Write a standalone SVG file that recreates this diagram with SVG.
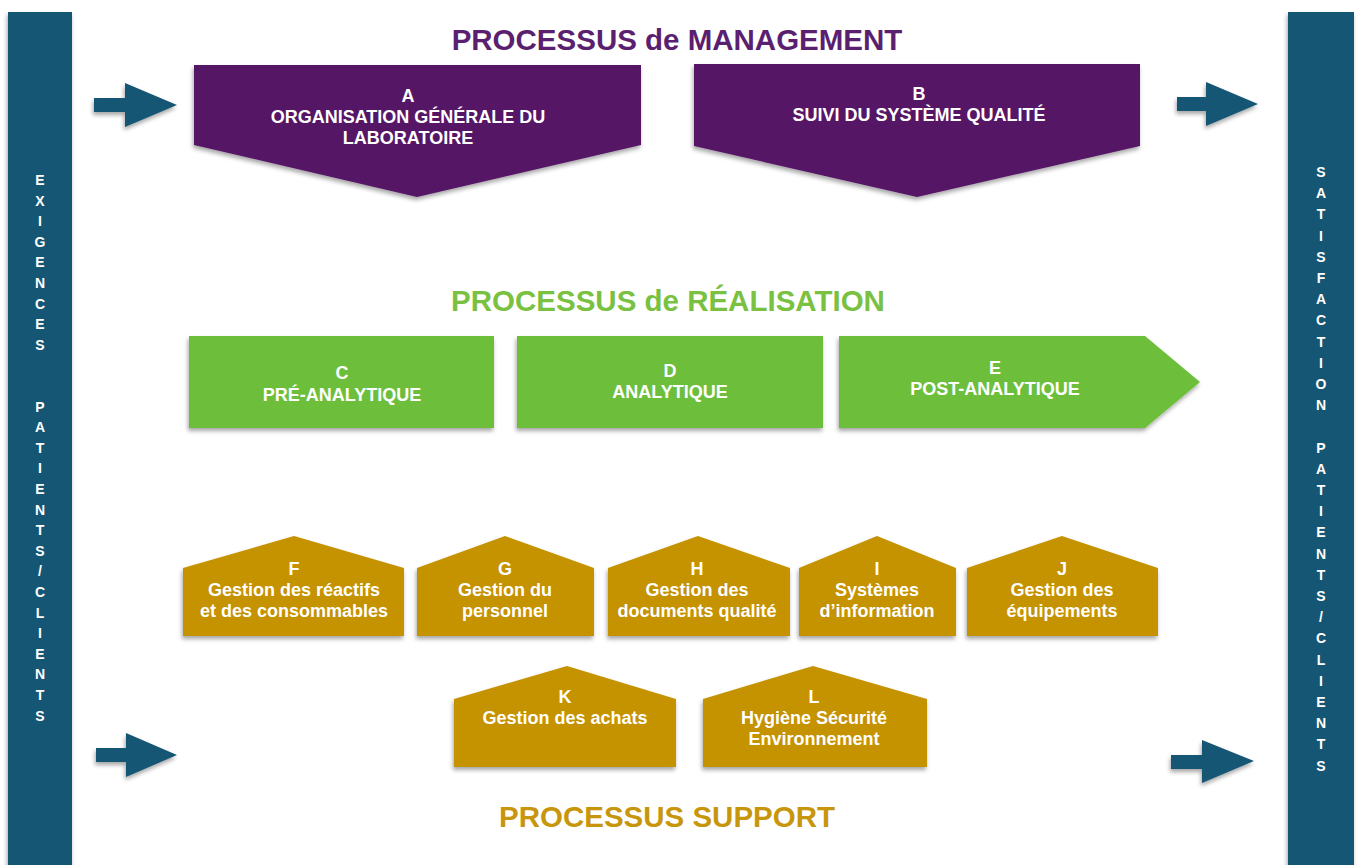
<svg xmlns="http://www.w3.org/2000/svg" width="1360" height="865" viewBox="0 0 1360 865">
<defs>
<filter id="sh" x="-10%" y="-10%" width="120%" height="130%">
<feDropShadow dx="-1" dy="3" stdDeviation="2" flood-color="#000" flood-opacity="0.35"/>
</filter>
<style>
.bar{fill:#195674;filter:url(#sh)}
.arr{fill:#195674;filter:url(#sh)}
.mg{fill:#561466;filter:url(#sh)}
.gr{fill:#6dbf3a;filter:url(#sh)}
.sp{fill:#c59200;filter:url(#sh)}
.t{font-family:"Liberation Sans",Arial,sans-serif;font-weight:bold;fill:#fff;text-anchor:middle}
.bt{font-family:"Liberation Sans",Arial,sans-serif;font-weight:bold;fill:#fff;text-anchor:middle;font-size:14px}
.nt{font-size:18px}
.st{font-size:18px}
.title{font-family:"Liberation Sans",Arial,sans-serif;font-weight:bold;text-anchor:middle;font-size:29.5px}
</style>
</defs>
<rect width="1360" height="865" fill="#fff"/>

<g id="bar-left">
<rect class="bar" x="8" y="12" width="64" height="860"/>
<text class="bt">
<tspan x="40" y="185">E</tspan><tspan x="40" y="205.6">X</tspan><tspan x="40" y="226.2">I</tspan><tspan x="40" y="246.8">G</tspan><tspan x="40" y="267.4">E</tspan><tspan x="40" y="288">N</tspan><tspan x="40" y="308.6">C</tspan><tspan x="40" y="329.2">E</tspan><tspan x="40" y="349.8">S</tspan><tspan x="40" y="411.6">P</tspan><tspan x="40" y="432.2">A</tspan><tspan x="40" y="452.8">T</tspan><tspan x="40" y="473.4">I</tspan><tspan x="40" y="494">E</tspan><tspan x="40" y="514.6">N</tspan><tspan x="40" y="535.2">T</tspan><tspan x="40" y="555.8">S</tspan><tspan x="40" y="576.4">/</tspan><tspan x="40" y="597">C</tspan><tspan x="40" y="617.6">L</tspan><tspan x="40" y="638.2">I</tspan><tspan x="40" y="658.8">E</tspan><tspan x="40" y="679.4">N</tspan><tspan x="40" y="700">T</tspan><tspan x="40" y="720.6">S</tspan>
</text>
</g>

<g id="bar-right">
<rect class="bar" x="1288" y="12" width="66" height="860"/>
<text class="bt">
<tspan x="1321" y="177">S</tspan><tspan x="1321" y="198.2">A</tspan><tspan x="1321" y="219.4">T</tspan><tspan x="1321" y="240.6">I</tspan><tspan x="1321" y="261.8">S</tspan><tspan x="1321" y="283">F</tspan><tspan x="1321" y="304.2">A</tspan><tspan x="1321" y="325.4">C</tspan><tspan x="1321" y="346.6">T</tspan><tspan x="1321" y="367.8">I</tspan><tspan x="1321" y="389">O</tspan><tspan x="1321" y="410.2">N</tspan><tspan x="1321" y="452.6">P</tspan><tspan x="1321" y="473.8">A</tspan><tspan x="1321" y="495">T</tspan><tspan x="1321" y="516.2">I</tspan><tspan x="1321" y="537.4">E</tspan><tspan x="1321" y="558.6">N</tspan><tspan x="1321" y="579.8">T</tspan><tspan x="1321" y="601">S</tspan><tspan x="1321" y="622.2">/</tspan><tspan x="1321" y="643.4">C</tspan><tspan x="1321" y="664.6">L</tspan><tspan x="1321" y="685.8">I</tspan><tspan x="1321" y="707">E</tspan><tspan x="1321" y="728.2">N</tspan><tspan x="1321" y="749.4">T</tspan><tspan x="1321" y="770.6">S</tspan>
</text>
</g>

<g id="connectors">
<polygon class="arr" points="94,98 125,98 125,83 177,105 125,127 125,112 94,112"/>
<polygon class="arr" points="1177,97 1206,97 1206,82 1258,104 1206,126 1206,111 1177,111"/>
<polygon class="arr" points="96,748 126,748 126,733 177,755 126,777 126,762 96,762"/>
<polygon class="arr" points="1171,755 1202,755 1202,740 1254,761 1202,783 1202,769 1171,769"/>
</g>

<g id="titles">
<text class="title" x="677" y="50" fill="#5b1f70">PROCESSUS de MANAGEMENT</text>
<text class="title" x="668" y="311" fill="#7ac142">PROCESSUS de RÉALISATION</text>
<text class="title" x="667" y="827" fill="#c8960c">PROCESSUS SUPPORT</text>
</g>

<g id="node-A">
<polygon class="mg" points="194,65 641,65 641,145 417,197 194,145"/>
<text class="t nt"><tspan x="408" y="102">A</tspan><tspan x="408" y="123">ORGANISATION GÉNÉRALE DU</tspan><tspan x="408" y="144">LABORATOIRE</tspan></text>
</g>
<g id="node-B">
<polygon class="mg" points="694,64 1140,64 1140,146 917,197 694,146"/>
<text class="t nt"><tspan x="919" y="100">B</tspan><tspan x="919" y="121">SUIVI DU SYSTÈME QUALITÉ</tspan></text>
</g>

<g id="node-C">
<rect class="gr" x="189" y="336" width="305" height="92"/>
<text class="t nt"><tspan x="342" y="379">C</tspan><tspan x="342" y="401">PRÉ-ANALYTIQUE</tspan></text>
</g>
<g id="node-D">
<rect class="gr" x="517" y="336" width="306" height="92"/>
<text class="t nt"><tspan x="670" y="377">D</tspan><tspan x="670" y="398">ANALYTIQUE</tspan></text>
</g>
<g id="node-E">
<polygon class="gr" points="839,336 1145,336 1200,382 1145,428 839,428"/>
<text class="t nt"><tspan x="995" y="374">E</tspan><tspan x="995" y="395">POST-ANALYTIQUE</tspan></text>
</g>

<g id="node-F">
<polygon class="sp" points="183,568 294,536 404,568 404,636 183,636"/>
<text class="t st"><tspan x="294" y="575">F</tspan><tspan x="294" y="596">Gestion des réactifs</tspan><tspan x="294" y="617">et des consommables</tspan></text>
</g>
<g id="node-G">
<polygon class="sp" points="417,568 505,536 594,568 594,636 417,636"/>
<text class="t st"><tspan x="505" y="575">G</tspan><tspan x="505" y="596">Gestion du</tspan><tspan x="505" y="617">personnel</tspan></text>
</g>
<g id="node-H">
<polygon class="sp" points="608,568 698,536 790,568 790,636 608,636"/>
<text class="t st"><tspan x="697" y="575">H</tspan><tspan x="697" y="596">Gestion des</tspan><tspan x="697" y="617">documents qualité</tspan></text>
</g>
<g id="node-I">
<polygon class="sp" points="799,568 877,536 956,568 956,636 799,636"/>
<text class="t st"><tspan x="877" y="575">I</tspan><tspan x="877" y="596">Systèmes</tspan><tspan x="877" y="617">d’information</tspan></text>
</g>
<g id="node-J">
<polygon class="sp" points="967,568 1062,536 1158,568 1158,636 967,636"/>
<text class="t st"><tspan x="1062" y="575">J</tspan><tspan x="1062" y="596">Gestion des</tspan><tspan x="1062" y="617">équipements</tspan></text>
</g>
<g id="node-K">
<polygon class="sp" points="454,699 567,666 676,699 676,767 454,767"/>
<text class="t st"><tspan x="565" y="703">K</tspan><tspan x="565" y="724">Gestion des achats</tspan></text>
</g>
<g id="node-L">
<polygon class="sp" points="703,699 813,666 927,699 927,767 703,767"/>
<text class="t st"><tspan x="814" y="703">L</tspan><tspan x="814" y="724">Hygiène Sécurité</tspan><tspan x="814" y="745">Environnement</tspan></text>
</g>
</svg>
